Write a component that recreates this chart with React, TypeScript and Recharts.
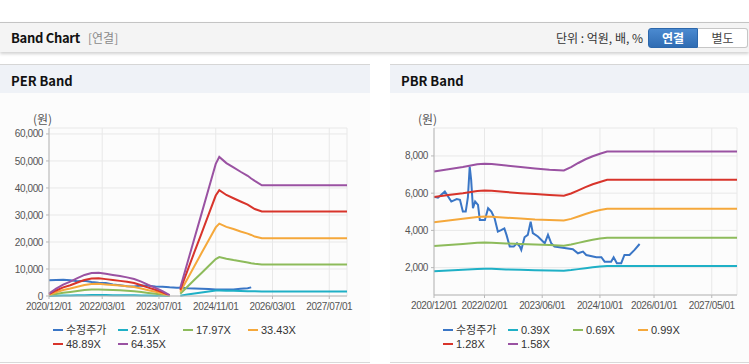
import { LineChart, Line, XAxis, YAxis, CartesianGrid } from "recharts";

// month index, 0 = 2020/12
const perMonths = [0, 2, 4, 6, 8, 10, 12, 14, 16, 18, 20, 22, 24, 26, 28, 30, 32, 34, 36, 37, 39, 41, 43, 45, 47, 48, 50, 52, 54, 56, 57, 58, 60, 84];
const perPrice = [5800, 5950, 6050, 5800, 5500, 5600, 5200, 4900, 4800, 4300, 4000, 3600, 3500, 3900, 3800, 3500, 3400, 3200, 3100, 3100, 2900, 2800, 2700, 2600, 2400, 2400, 2400, 2400, 2700, 2900, 3200, null, null, null];
const perBand1 = [40, 110, 170, 210, 260, 310, 340, 350, 330, 310, 290, 270, 250, 210, 160, 120, 70, 10, null, 120, 520, 900, 1300, 1650, 2000, 2050, 1950, 1900, 1850, 1800, 1750, 1750, 1700, 1700];
const perBand2 = [250, 750, 1200, 1500, 1850, 2200, 2400, 2450, 2300, 2200, 2100, 1950, 1750, 1500, 1150, 850, 500, 100, null, 850, 3400, 6000, 8500, 11100, 13700, 14400, 13800, 13300, 12900, 12400, 12100, 11900, 11700, 11700];
const perBand3 = [450, 1400, 2200, 2750, 3450, 4050, 4400, 4500, 4250, 4050, 3850, 3600, 3300, 2750, 2150, 1550, 950, 150, null, 1550, 6300, 11100, 15900, 20600, 25400, 26800, 25600, 24800, 23900, 23100, 22600, 22000, 21400, 21400];
const perBand4 = [700, 2050, 3200, 4000, 5000, 5900, 6450, 6550, 6250, 5950, 5600, 5250, 4800, 4000, 3100, 2300, 1350, 250, null, 2300, 9300, 16300, 23200, 30200, 37200, 39200, 37400, 36200, 35000, 33800, 33000, 32200, 31300, 31300];
const perBand5 = [900, 2700, 4200, 5300, 6600, 7800, 8500, 8600, 8200, 7800, 7400, 6900, 6300, 5300, 4100, 3000, 1800, 300, null, 3000, 12200, 21400, 30500, 39700, 48900, 51500, 49200, 47600, 46000, 44500, 43500, 42600, 41000, 41000];
const perNames = ["수정주가", "2.51X", "17.97X", "33.43X", "48.89X", "64.35X"];
const perXTicks = [0, 15, 31, 47, 63, 79];
const perXLabels = ["2020/12/01", "2022/03/01", "2023/07/01", "2024/11/01", "2026/03/01", "2027/07/01"];
const perYTicks = [0, 10000, 20000, 30000, 40000, 50000, 60000];

const pbrBandMonths = [0, 4, 8, 12, 14, 16, 20, 24, 28, 32, 36, 38, 40, 42, 44, 46, 48, 84];
const pbrBand1 = [1810, 1850, 1880, 1920, 1940, 1935, 1900, 1880, 1860, 1840, 1830, 1870, 1920, 1970, 2020, 2060, 2090, 2090];
const pbrBand2 = [3160, 3220, 3270, 3330, 3345, 3340, 3300, 3270, 3240, 3210, 3180, 3240, 3330, 3420, 3500, 3560, 3610, 3610];
const pbrBand3 = [4440, 4530, 4620, 4720, 4740, 4730, 4680, 4640, 4590, 4560, 4530, 4620, 4750, 4880, 5000, 5090, 5160, 5160];
const pbrBand4 = [5790, 5900, 6000, 6120, 6140, 6130, 6060, 6000, 5950, 5900, 5860, 5980, 6150, 6320, 6480, 6600, 6720, 6720];
const pbrBand5 = [7160, 7280, 7400, 7550, 7580, 7560, 7480, 7400, 7330, 7260, 7220, 7400, 7620, 7820, 7980, 8120, 8240, 8240];
const pbrPriceMonths = [0, 1.1, 3, 4.8, 6.3, 7.2, 8, 8.8, 9.4, 9.9, 10.3, 10.8, 11.4, 12.2, 12.7, 14.1, 15, 15.9, 16.8, 17.7, 18.6, 19.5, 20.1, 21, 22.1, 23, 23.8, 24.2, 25.1, 26, 26.8, 27.4, 28.8, 30.7, 31.6, 32.5, 33.4, 35.7, 38.5, 39.9, 41.3, 42.2, 45, 46.4, 47.3, 49.1, 49.8, 50.7, 51.9, 52.8, 54.2, 55.6, 57];
const pbrPrice = [5800, 5760, 6090, 5550, 5680, 5640, 5010, 5010, 5780, 7430, 6715, 5190, 5550, 5370, 4560, 4560, 5190, 5010, 4650, 3935, 4020, 4110, 3760, 3130, 3130, 3310, 3130, 2950, 3630, 3760, 4470, 3850, 3670, 3310, 3760, 3310, 3130, 3070, 2990, 2770, 2860, 2680, 2560, 2560, 2320, 2320, 2560, 2240, 2240, 2680, 2680, 2950, 3270];
const pbrNames = ["수정주가", "0.39X", "0.69X", "0.99X", "1.28X", "1.58X"];
const pbrXTicks = [0, 14, 30, 46, 61, 77];
const pbrXLabels = ["2020/12/01", "2022/02/01", "2023/06/01", "2024/10/01", "2026/01/01", "2027/05/01"];
const pbrYTicks = [2000, 4000, 6000, 8000];

const colors = ["#3a76c6", "#1fb0c6", "#8dbb5b", "#f5a83b", "#d8342b", "#9a52a2"];

const KR_FONT = "'Noto Sans CJK KR', 'Liberation Sans', sans-serif";
const LEGEND_FONT = "'Liberation Sans', 'Noto Sans CJK KR', sans-serif";
const AXIS_COLOR = "#b8b8b8";
const tickStyle = { fill: "#555", fontSize: 10, fontFamily: "'Liberation Sans', Arial, sans-serif" };

const perData = perMonths.map((m, i) => ({
  m,
  price: perPrice[i],
  b1: perBand1[i],
  b2: perBand2[i],
  b3: perBand3[i],
  b4: perBand4[i],
  b5: perBand5[i],
}));

const pbrBandData = pbrBandMonths.map((m, i) => ({
  m,
  b1: pbrBand1[i],
  b2: pbrBand2[i],
  b3: pbrBand3[i],
  b4: pbrBand4[i],
  b5: pbrBand5[i],
}));
const pbrPriceData = pbrPriceMonths.map((m, i) => ({ m, price: pbrPrice[i] }));

const Legend = ({ names, left }: { names: string[]; left: number }) => (
  <div style={{ position: "absolute", left, top: 324, width: 270, fontFamily: LEGEND_FONT, fontSize: 11, color: "#333" }}>
    {names.map((n, i) => (
      <div
        key={n}
        style={{
          position: "absolute",
          left: (i % 4) * 65,
          top: Math.floor(i / 4) * 14,
          height: 12,
          lineHeight: "12px",
          whiteSpace: "nowrap",
          display: "flex",
          alignItems: "center",
        }}
      >
        <span style={{ display: "inline-block", width: 10, height: 2, background: colors[i], marginRight: 3 }} />
        <span>{n}</span>
      </div>
    ))}
  </div>
);

const frameAxes = (yDomain: number[]) => [
  <XAxis key="tx" xAxisId="top" orientation="top" type="number" domain={[0, 84]} tick={false} tickLine={false} axisLine={{ stroke: AXIS_COLOR }} height={0} />,
  <YAxis key="ry" yAxisId="right" orientation="right" type="number" domain={yDomain} tick={false} tickLine={false} axisLine={{ stroke: AXIS_COLOR }} width={0} />,
];

const PerChart = () => (
  <LineChart width={370} height={210} data={perData} margin={{ top: 18, right: 23, left: 0, bottom: 4 }}>
    <CartesianGrid stroke="#e8e8e8" />
    <XAxis
      dataKey="m"
      type="number"
      domain={[0, 84]}
      ticks={perXTicks}
      interval={0}
      tickFormatter={(v: number) => perXLabels[perXTicks.indexOf(v)]}
      tick={tickStyle}
      tickSize={3}
      tickMargin={4}
      height={20}
      axisLine={{ stroke: AXIS_COLOR }}
      tickLine={{ stroke: AXIS_COLOR }}
    />
    <YAxis
      type="number"
      domain={[0, 62200]}
      ticks={perYTicks}
      interval={0}
      tickFormatter={(v: number) => v.toLocaleString("en-US")}
      tick={tickStyle}
      tickSize={3}
      tickMargin={3}
      width={49}
      axisLine={{ stroke: AXIS_COLOR }}
      tickLine={{ stroke: AXIS_COLOR }}
    />
    {frameAxes([0, 62200])}
    <Line dataKey="price" stroke={colors[0]} strokeWidth={2} dot={false} isAnimationActive={false} />
    <Line dataKey="b1" stroke={colors[1]} strokeWidth={2} dot={false} isAnimationActive={false} />
    <Line dataKey="b2" stroke={colors[2]} strokeWidth={2} dot={false} isAnimationActive={false} />
    <Line dataKey="b3" stroke={colors[3]} strokeWidth={2} dot={false} isAnimationActive={false} />
    <Line dataKey="b4" stroke={colors[4]} strokeWidth={2} dot={false} isAnimationActive={false} />
    <Line dataKey="b5" stroke={colors[5]} strokeWidth={2} dot={false} isAnimationActive={false} />
  </LineChart>
);

const PbrChart = () => (
  <LineChart width={369} height={210} margin={{ top: 18, right: 12, left: 0, bottom: 5 }}>
    <CartesianGrid stroke="#e8e8e8" />
    <XAxis
      dataKey="m"
      type="number"
      domain={[0, 84]}
      ticks={pbrXTicks}
      interval={0}
      tickFormatter={(v: number) => pbrXLabels[pbrXTicks.indexOf(v)]}
      tick={tickStyle}
      tickSize={3}
      tickMargin={4}
      height={20}
      axisLine={{ stroke: AXIS_COLOR }}
      tickLine={{ stroke: AXIS_COLOR }}
    />
    <YAxis
      type="number"
      domain={[530, 9500]}
      ticks={pbrYTicks}
      interval={0}
      tickFormatter={(v: number) => v.toLocaleString("en-US")}
      tick={tickStyle}
      tickSize={3}
      tickMargin={3}
      width={54}
      axisLine={{ stroke: AXIS_COLOR }}
      tickLine={{ stroke: AXIS_COLOR }}
    />
    {frameAxes([530, 9500])}
    <Line data={pbrPriceData} dataKey="price" stroke={colors[0]} strokeWidth={2} dot={false} isAnimationActive={false} />
    <Line data={pbrBandData} dataKey="b1" stroke={colors[1]} strokeWidth={2} dot={false} isAnimationActive={false} />
    <Line data={pbrBandData} dataKey="b2" stroke={colors[2]} strokeWidth={2} dot={false} isAnimationActive={false} />
    <Line data={pbrBandData} dataKey="b3" stroke={colors[3]} strokeWidth={2} dot={false} isAnimationActive={false} />
    <Line data={pbrBandData} dataKey="b4" stroke={colors[4]} strokeWidth={2} dot={false} isAnimationActive={false} />
    <Line data={pbrBandData} dataKey="b5" stroke={colors[5]} strokeWidth={2} dot={false} isAnimationActive={false} />
  </LineChart>
);

const Panel = ({ left, width, title }: { left: number; width: number; title: string }) => (
  <>
    <div style={{ position: "absolute", left, top: 64, width, height: 28, borderTop: "1px solid #d6d6d6", background: "#eff2f7" }}>
      <div style={{ position: "absolute", left: 11, top: 0, lineHeight: "31px", fontSize: 13, fontWeight: 700, color: "#111", fontFamily: KR_FONT }}>
        {title}
      </div>
    </div>
    <div style={{ position: "absolute", left, top: 93, width, height: 269, background: "#fcfcfc", borderBottom: "1px solid #d9d9d9" }} />
  </>
);

export default function App() {
  return (
    <div style={{ position: "absolute", left: 0, top: 0, width: 749, height: 364, background: "#fff", overflow: "hidden", fontFamily: KR_FONT }}>
      {/* header bar */}
      <div
        style={{
          position: "absolute",
          left: 0,
          top: 22,
          width: 749,
          height: 29,
          borderTop: "1px solid #c4c4c4",
          background: "#f4f4f4",
          boxShadow: "0 2px 3px rgba(0,0,0,0.18)",
        }}
      >
        <span style={{ position: "absolute", left: 11, top: 0, lineHeight: "30px", fontSize: 13, fontWeight: 700, color: "#111", letterSpacing: -0.3 }}>
          Band Chart
        </span>
        <span style={{ position: "absolute", left: 88, top: 0, lineHeight: "30px", fontSize: 12, color: "#8a8a8a" }}>[연결]</span>
        <span style={{ position: "absolute", right: 106, top: 0, lineHeight: "30px", fontSize: 12, color: "#333" }}>
          단위 : 억원, 배, %
        </span>
        <div
          style={{
            position: "absolute",
            left: 648,
            top: 5,
            width: 50,
            height: 20,
            boxSizing: "border-box",
            border: "1px solid #2c67ab",
            borderRadius: "3px 0 0 3px",
            background: "linear-gradient(#4b8ad0, #2f6cb3)",
            color: "#fff",
            fontSize: 12,
            fontWeight: 700,
            textAlign: "center",
            lineHeight: "18px",
          }}
        >
          연결
        </div>
        <div
          style={{
            position: "absolute",
            left: 698,
            top: 5,
            width: 50,
            height: 20,
            boxSizing: "border-box",
            border: "1px solid #c6c6c6",
            borderLeft: "none",
            borderRadius: "0 3px 3px 0",
            background: "#fff",
            color: "#444",
            fontSize: 12,
            textAlign: "center",
            lineHeight: "18px",
          }}
        >
          별도
        </div>
      </div>

      <Panel left={0} width={370} title="PER Band" />
      <Panel left={390} width={359} title="PBR Band" />

      <div style={{ position: "absolute", left: 33, top: 110, fontSize: 12, color: "#555" }}>(원)</div>
      <div style={{ position: "absolute", left: 418, top: 110, fontSize: 12, color: "#555" }}>(원)</div>

      <div style={{ position: "absolute", left: 0, top: 110, letterSpacing: -0.4 }}>
        <PerChart />
      </div>
      <div style={{ position: "absolute", left: 380, top: 110, letterSpacing: -0.4 }}>
        <PbrChart />
      </div>

      <Legend names={perNames} left={53} />
      <Legend names={pbrNames} left={443} />
    </div>
  );
}
